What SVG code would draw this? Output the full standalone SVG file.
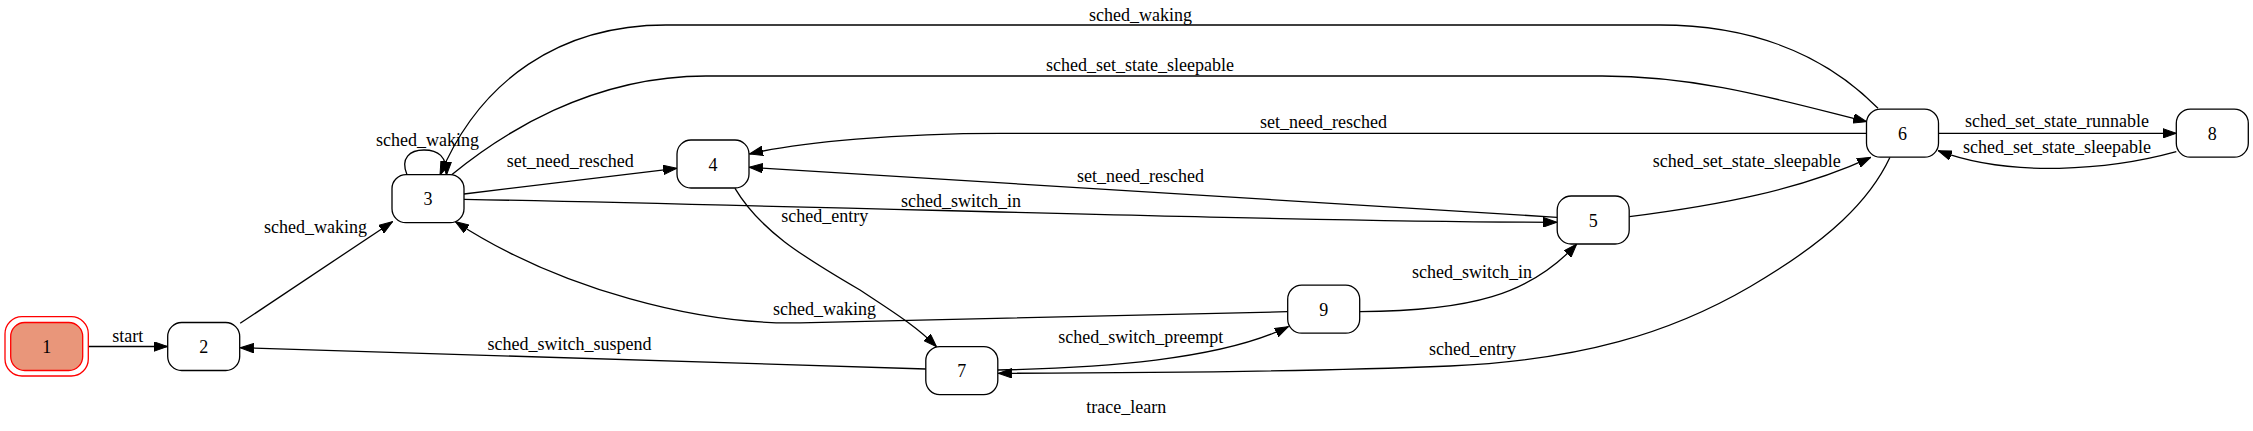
<svg xmlns="http://www.w3.org/2000/svg" width="2253" height="431" viewBox="0 0 2253 431">
<style>
  .node rect { fill: #ffffff; stroke: #000000; stroke-width: 1.3; }
  .node text, .lbl { font-family: "Liberation Serif", "Times New Roman", serif; font-size: 18px; fill: #000000; text-anchor: middle; }
  .edges path { fill: none; stroke: #000000; stroke-width: 1.3; marker-end: url(#arr); }
  .edges path.nm { marker-end: none; }
</style>
<defs>
  <marker id="arr" markerUnits="userSpaceOnUse" markerWidth="14" markerHeight="10" viewBox="0 0 14 10" refX="13.5" refY="5" orient="auto">
    <path d="M0,0.3 L13.5,5 L0,9.7 z" fill="#000000" stroke="#000000" stroke-width="1"/>
  </marker>
</defs>
<rect x="0" y="0" width="2253" height="431" fill="#ffffff"/>

<g id="edges" class="edges">
  <path d="M88.3,346.5 L167.5,346.5"/>
  <path d="M240.2,323.3 L392.5,221.7"/>
  <path d="M407,174.7 C400,158 410,150 424,150 C438,150 447,156 446.5,175"/>
  <path d="M464,194 L676.7,168.3"/>
  <path d="M464,199.3 C900,208 1300,222 1557,222.3"/>
  <path d="M735,188.3 C760,230 800,255 860,290 C890,310 915,325 936.5,346.7"/>
  <path d="M1557,217.3 L749.2,167.3"/>
  <path d="M1866.3,133.3 L1000,133.3 C900,133.3 800,142 749.5,154"/>
  <path d="M451.7,174.7 C500,135 590,76 706,76 L1602,76 C1700,76 1780,100 1866.8,121.7"/>
  <path d="M1878,108.3 C1855,85 1790,25 1660,25 L666,25 C560,25 480,80 440,175"/>
  <path d="M1629.3,216.7 C1720,205 1800,190 1870.7,157.3"/>
  <path d="M1890,157.3 C1870,200 1830,240 1750,286.7 C1670,333.4 1580,360 1450,366 C1300,372 1150,373 998.3,373.3"/>
  <path d="M997.7,370 C1100,368 1220,360 1288.3,326.7"/>
  <path d="M926,369 L240.2,347.7"/>
  <path d="M1287.5,311.7 L800,322.8 C700,325 560,290 455.4,221.7"/>
  <path d="M1360,311.7 C1470,311 1530,295 1576.7,244"/>
  <path d="M1938.7,133.3 L2176.3,133.3"/>
  <path d="M2176.3,151.7 C2110,170 2010,178 1938.3,150.7"/>
</g>

<g id="edge-labels">
  <text class="lbl" x="127.7" y="341.7">start</text>
  <text class="lbl" x="315.4" y="233.3">sched_waking</text>
  <text class="lbl" x="427.5" y="145.7">sched_waking</text>
  <text class="lbl" x="570.3" y="166.7">set_need_resched</text>
  <text class="lbl" x="824.8" y="221.7">sched_entry</text>
  <text class="lbl" x="961" y="207.3">sched_switch_in</text>
  <text class="lbl" x="1140.6" y="181.7">set_need_resched</text>
  <text class="lbl" x="824.5" y="315">sched_waking</text>
  <text class="lbl" x="1140.8" y="343.3">sched_switch_preempt</text>
  <text class="lbl" x="569.4" y="350">sched_switch_suspend</text>
  <text class="lbl" x="1472" y="278.3">sched_switch_in</text>
  <text class="lbl" x="1472.5" y="355">sched_entry</text>
  <text class="lbl" x="1323.5" y="127.5">set_need_resched</text>
  <text class="lbl" x="1746.7" y="166.7">sched_set_state_sleepable</text>
  <text class="lbl" x="2057" y="126.7">sched_set_state_runnable</text>
  <text class="lbl" x="2057" y="152.7">sched_set_state_sleepable</text>
  <text class="lbl" x="1140.6" y="20.7">sched_waking</text>
  <text class="lbl" x="1140" y="70.7">sched_set_state_sleepable</text>
  <text class="lbl" x="1126.3" y="413.3">trace_learn</text>
</g>

<g id="node1" class="node">
  <rect x="5" y="316.7" width="83.3" height="59.3" rx="17" ry="17" style="fill:none;stroke:#ff0000"/>
  <rect x="10.7" y="322.5" width="72" height="48" rx="14" ry="14" style="fill:#e9967a;stroke:#ff0000"/>
  <text x="46.7" y="353">1</text>
</g>
<g id="node2" class="node">
  <rect x="167.7" y="322.5" width="72" height="48" rx="14" ry="14"/>
  <text x="203.7" y="353">2</text>
</g>
<g id="node3" class="node">
  <rect x="392" y="174.7" width="72" height="48" rx="14" ry="14"/>
  <text x="428" y="205.2">3</text>
</g>
<g id="node4" class="node">
  <rect x="677" y="140" width="72" height="48" rx="14" ry="14"/>
  <text x="713" y="170.5">4</text>
</g>
<g id="node5" class="node">
  <rect x="1557.2" y="196" width="72" height="48" rx="14" ry="14"/>
  <text x="1593.2" y="226.5">5</text>
</g>
<g id="node6" class="node">
  <rect x="1866.5" y="109.2" width="72" height="48" rx="14" ry="14"/>
  <text x="1902.5" y="139.7">6</text>
</g>
<g id="node7" class="node">
  <rect x="925.8" y="346.6" width="72" height="48" rx="14" ry="14"/>
  <text x="961.8" y="377.1">7</text>
</g>
<g id="node8" class="node">
  <rect x="2176.3" y="109.2" width="72" height="48" rx="14" ry="14"/>
  <text x="2212.3" y="139.7">8</text>
</g>
<g id="node9" class="node">
  <rect x="1287.7" y="285.2" width="72" height="48" rx="14" ry="14"/>
  <text x="1323.7" y="315.7">9</text>
</g>
</svg>
